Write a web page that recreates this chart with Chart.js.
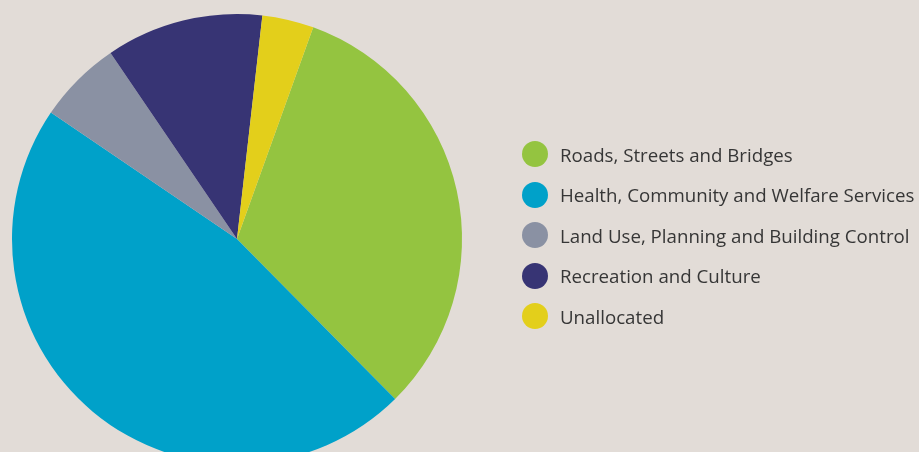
<!DOCTYPE html>
<html>
<head>
<meta charset="utf-8">
<script src="https://cdn.jsdelivr.net/npm/chart.js"></script>
<style>
    html, body {
        margin: 0;
        padding: 0;
        width: 919px;
        height: 452px;
        overflow: hidden;
        background: #e2dcd7;
        font-family: 'Open Sans', sans-serif;
    }
    .chart-box {
        position: absolute;
        left: 0;
        top: 0;
        width: 919px;
        height: 480px;
    }
    #legend {
        position: absolute;
        left: 522px;
        top: 134px;
        margin: 0;
        padding: 0;
        list-style: none;
    }
    #legend li {
        display: flex;
        align-items: center;
        height: 40.5px;
        font-size: 18.7px;
        color: #363636;
        white-space: nowrap;
    }
    #legend .dot {
        width: 26px;
        height: 26px;
        border-radius: 50%;
        margin-right: 12px;
        flex: none;
    }
</style>
</head>
<body>
<div class="chart-box"><canvas id="myChart" width="919" height="480"></canvas></div>
<ul id="legend"></ul>

<script>
const categories = [
    'Roads, Streets and Bridges',
    'Health, Community and Welfare Services',
    'Land Use, Planning and Building Control',
    'Recreation and Culture',
    'Unallocated'
];
const shares = [32.1, 46.9, 6.0, 11.3, 3.7];
const colors = ['#94c440', '#00a1c9', '#8a91a3', '#373474', '#e3cf1b'];

function renderLegend() {
    const ul = document.getElementById('legend');
    categories.forEach((name, i) => {
        const li = document.createElement('li');
        li.innerHTML = `<span class="dot" style="background:${colors[i]}"></span>${name}`;
        ul.appendChild(li);
    });
}

function renderChart() {
    const ctx = document.getElementById('myChart');

    new Chart(ctx, {
        type: 'pie',
        data: {
            labels: categories,
            datasets: [{
                data: shares,
                backgroundColor: colors,
                borderWidth: 0
            }]
        },
        options: {
            responsive: false,
            animation: false,
            rotation: 19.8,
            layout: {
                padding: { left: 12, top: 14, right: 457, bottom: 16 }
            },
            plugins: {
                legend: { display: false },
                tooltip: { enabled: false }
            }
        }
    });
}

renderLegend();
renderChart();
</script>
</body>
</html>
